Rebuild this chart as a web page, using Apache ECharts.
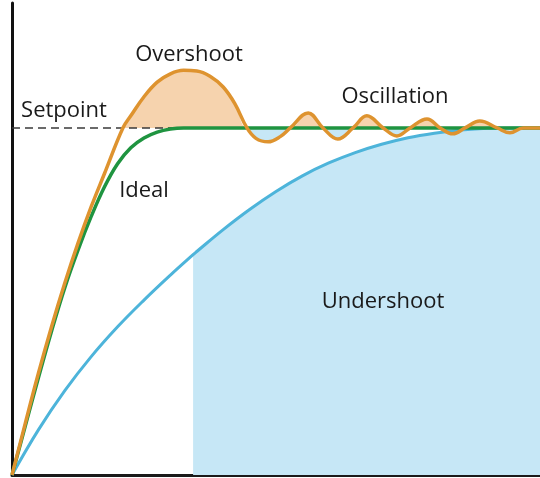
<!DOCTYPE html>
<html>
<head>
<meta charset="utf-8">
<script src="https://cdn.jsdelivr.net/npm/echarts@6/dist/echarts.min.js"></script>
<style>
  html, body { margin: 0; padding: 0; background: #fff; }
  #chart { width: 540px; height: 478px; }
</style>
</head>
<body>
<div id="chart"></div>
<script>
// response curves, x = time (0..10), y = output (setpoint = 1)
const setpoint = 1;
const undershootStart = 3.43;   // where the shaded undershoot region begins
const overshootStart = 2.10;    // first crossing of the setpoint by the orange curve

const overshootCurve = [
  [0, 0], [0.25, 0.148], [0.5, 0.293], [0.75, 0.428], [1.0, 0.553], [1.25, 0.668],
  [1.5, 0.773], [1.75, 0.868], [2.10, 1.0], [2.25, 1.035], [2.5, 1.09], [2.75, 1.132],
  [3.0, 1.156], [3.25, 1.166], [3.5, 1.164], [3.75, 1.149], [4.0, 1.118], [4.22, 1.07],
  [4.45, 1.0], [4.62, 0.970], [4.85, 0.960], [5.08, 0.975], [5.27, 1.0], [5.61, 1.043],
  [5.89, 1.0], [6.17, 0.968], [6.46, 1.0], [6.72, 1.035], [7.03, 1.0], [7.29, 0.977],
  [7.54, 1.0], [7.86, 1.026], [8.11, 1.0], [8.35, 0.983], [8.58, 1.0], [8.86, 1.020],
  [9.19, 1.0], [9.43, 0.986], [9.68, 1.0], [10, 1.0]
];

const idealCurve = [
  [0, 0], [0.25, 0.14], [0.5, 0.28], [0.75, 0.415], [1.0, 0.54], [1.25, 0.648],
  [1.5, 0.745], [1.75, 0.83], [2.0, 0.897], [2.25, 0.943], [2.5, 0.971], [2.75, 0.988],
  [3.0, 0.997], [3.25, 1.0], [10, 1.0]
];

const slowCurve = [
  [0, 0], [0.5, 0.13], [1.0, 0.243], [1.5, 0.341], [2.0, 0.427], [2.5, 0.504],
  [3.0, 0.576], [3.43, 0.635], [3.5, 0.644], [4.0, 0.707], [4.5, 0.765], [5.0, 0.817],
  [5.5, 0.862], [6.0, 0.899], [6.5, 0.929], [7.0, 0.953], [7.5, 0.972], [8.0, 0.985],
  [8.5, 0.994], [9.0, 0.999], [9.5, 1.0], [10, 1.0]
];

const setpointLine = [[0, setpoint], [10, setpoint]];

// derived shapes for the shaded regions
const afterCross = overshootCurve.filter(p => p[0] >= overshootStart);
const overshootFill = afterCross.map(p => [p[0], Math.max(p[1], setpoint)]);
const dipFill = afterCross.map(p => [p[0], Math.min(p[1], setpoint)]);
const undershootFill = slowCurve.filter(p => p[0] >= undershootStart);

const ORANGE = '#de932f';
const PEACH = '#f6d3ae';
const GREEN = '#1f9440';
const BLUE = '#4db4da';
const LIGHTBLUE = '#c6e7f6';
const FONT = '"Open Sans", sans-serif';

const chart = echarts.init(document.getElementById('chart'));

const labels = [
  { text: 'Overshoot', x: 189, y: 55 },
  { text: 'Setpoint', x: 64, y: 111 },
  { text: 'Ideal', x: 144, y: 191 },
  { text: 'Oscillation', x: 395, y: 97 },
  { text: 'Undershoot', x: 383, y: 302 }
];

const option = {
  animation: false,
  grid: { left: 12, right: 0, top: 3, bottom: 3 },
  xAxis: {
    type: 'value', min: 0, max: 10,
    axisLine: { show: true, onZero: false, lineStyle: { color: '#1a1a1a', width: 3 } },
    axisTick: { show: false }, axisLabel: { show: false }, splitLine: { show: false }
  },
  yAxis: {
    type: 'value', min: 0, max: 1.36,
    axisLine: { show: true, lineStyle: { color: '#111', width: 3 } },
    axisTick: { show: false }, axisLabel: { show: false }, splitLine: { show: false }
  },
  series: [
    {
      name: 'undershoot area', type: 'line', data: undershootFill, smooth: 0.4,
      showSymbol: false, silent: true, z: 1,
      lineStyle: { width: 0, opacity: 0 },
      areaStyle: { color: LIGHTBLUE, opacity: 1 }
    },
    {
      name: 'overshoot area', type: 'line', data: overshootFill, smooth: 0.4,
      showSymbol: false, silent: true, z: 2,
      lineStyle: { width: 0, opacity: 0 },
      areaStyle: { color: PEACH, opacity: 1, origin: setpoint }
    },
    {
      name: 'dip area', type: 'line', data: dipFill, smooth: 0.4,
      showSymbol: false, silent: true, z: 2,
      lineStyle: { width: 0, opacity: 0 },
      areaStyle: { color: LIGHTBLUE, opacity: 1, origin: setpoint }
    },
    {
      name: 'Setpoint', type: 'line', data: setpointLine, showSymbol: false, z: 3,
      lineStyle: { color: '#3a3a3a', width: 1.5, type: [8, 5] }
    },
    {
      name: 'Undershoot', type: 'line', data: slowCurve, smooth: 0.4,
      showSymbol: false, z: 4,
      lineStyle: { color: BLUE, width: 3 }
    },
    {
      name: 'Ideal', type: 'line', data: idealCurve, smooth: 0.4,
      showSymbol: false, z: 5,
      lineStyle: { color: GREEN, width: 3.5 }
    },
    {
      name: 'Overshoot', type: 'line', data: overshootCurve, smooth: 0.4,
      showSymbol: false, z: 6,
      lineStyle: { color: ORANGE, width: 3.5 }
    }
  ],
  graphic: labels.map(l => ({
    type: 'text', x: l.x, y: l.y, z: 100,
    style: {
      text: l.text, fill: '#1a1a1a', font: '500 22px ' + FONT,
      align: 'center', verticalAlign: 'middle'
    }
  }))
};

chart.setOption(option);
</script>
</body>
</html>
